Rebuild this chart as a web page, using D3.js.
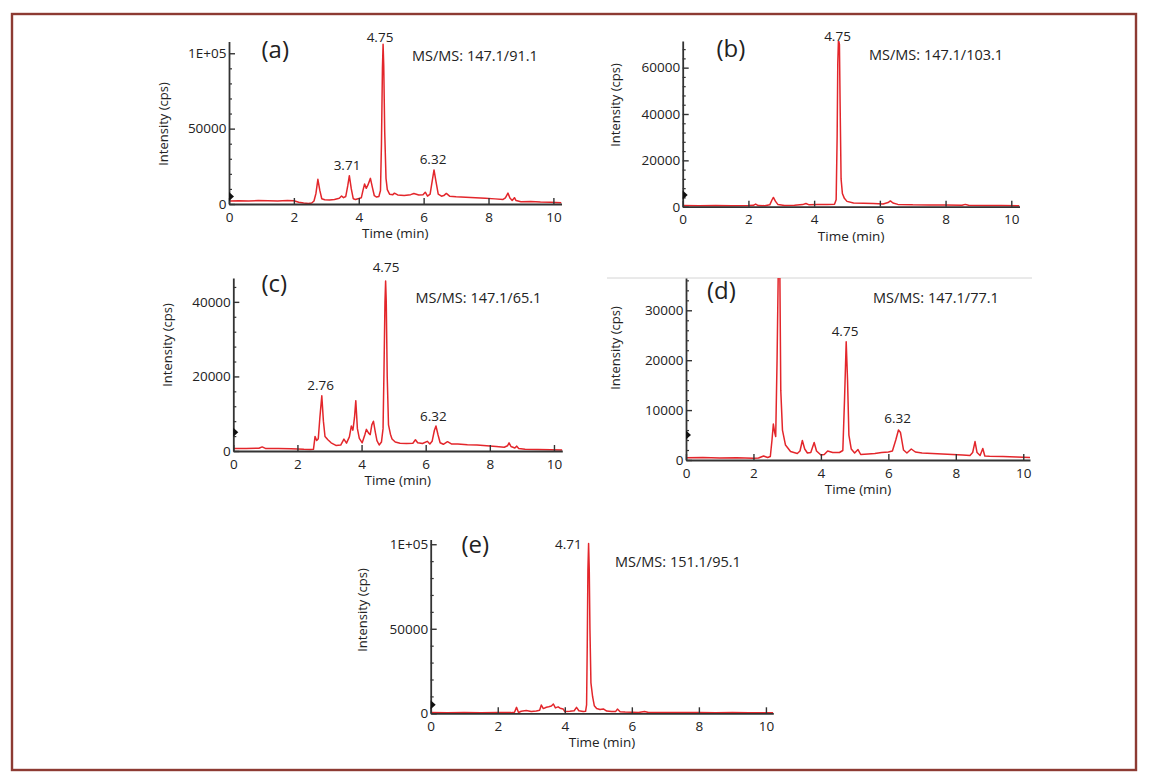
<!DOCTYPE html>
<html>
<head>
<meta charset="utf-8">
<script src="https://cdn.jsdelivr.net/npm/d3@7"></script>
<style>
  html, body { margin: 0; padding: 0; background: #fff; }
  svg { display: block; }
  text { font-family: "Open Sans", "Noto Sans", sans-serif; fill: #222; }
</style>
</head>
<body>
<svg id="chart" width="1152" height="782"></svg>
<script>
// ---------------- DATA ----------------
const panelIds = ["a", "b", "c", "d", "e"];
const transitions = ["MS/MS: 147.1/91.1", "MS/MS: 147.1/103.1", "MS/MS: 147.1/65.1", "MS/MS: 147.1/77.1", "MS/MS: 151.1/95.1"];
const xTicks = [0, 2, 4, 6, 8, 10];
const yTicksA = [0, 50000, 100000];
const yTicksB = [0, 20000, 40000, 60000];
const yTicksC = [0, 20000, 40000];
const yTicksD = [0, 10000, 20000, 30000];
const yTicksE = [0, 50000, 100000];
const peakLabelsA = [[4.75, "4.75"], [3.71, "3.71"], [6.32, "6.32"]];
const peakLabelsB = [[4.75, "4.75"]];
const peakLabelsC = [[4.75, "4.75"], [2.76, "2.76"], [6.32, "6.32"]];
const peakLabelsD = [[4.75, "4.75"], [6.32, "6.32"]];
const peakLabelsE = [[4.71, "4.71"]];

// time (min), intensity (cps)
const traceA = [[0,2000],[0.3,2200],[0.6,2000],[0.9,2300],[1.2,2100],[1.5,2000],[1.8,2300],[2.0,2100],[2.15,1200],[2.3,600],[2.45,300],[2.55,700],[2.62,2000],[2.68,7000],[2.74,16400],[2.80,9000],[2.86,3500],[2.95,2800],[3.1,2600],[3.25,3000],[3.4,3800],[3.47,5300],[3.53,4200],[3.6,5000],[3.66,12000],[3.71,18800],[3.77,10000],[3.83,3500],[3.9,3000],[4.0,3600],[4.08,4200],[4.13,9000],[4.18,13300],[4.23,10400],[4.28,12500],[4.36,17000],[4.42,11000],[4.48,5500],[4.55,4600],[4.62,5000],[4.67,9000],[4.70,40000],[4.73,90000],[4.75,106000],[4.77,92000],[4.80,48000],[4.84,17000],[4.88,9500],[4.95,6500],[5.05,6200],[5.1,7200],[5.2,6000],[5.4,5600],[5.6,6200],[5.7,7000],[5.85,6000],[5.98,6200],[6.05,7800],[6.12,5200],[6.2,6500],[6.27,16000],[6.32,22600],[6.38,15000],[6.45,6500],[6.55,5200],[6.62,5600],[6.7,7000],[6.8,5200],[7.0,4800],[7.3,4500],[7.6,4200],[7.9,3800],[8.2,3400],[8.45,3000],[8.52,4000],[8.6,7200],[8.66,4000],[8.73,2300],[8.8,4200],[8.85,2300],[9.0,1500],[9.3,1700],[9.6,1300],[9.9,1200],[10.25,900]];
const traceB = [[0,500],[0.5,450],[1.0,550],[1.5,450],[2.0,500],[2.15,600],[2.22,1150],[2.3,500],[2.5,450],[2.65,800],[2.72,3000],[2.76,4000],[2.82,2400],[2.9,900],[3.1,550],[3.4,600],[3.65,900],[3.75,1400],[3.85,800],[4.1,900],[4.4,1000],[4.62,1100],[4.67,3000],[4.70,30000],[4.72,62000],[4.74,72000],[4.77,70000],[4.79,45000],[4.82,12000],[4.86,5700],[4.92,3600],[5.0,2300],[5.2,1600],[5.5,1500],[5.8,1400],[6.1,1200],[6.25,1800],[6.32,2500],[6.4,1600],[6.55,1000],[7.0,800],[7.5,750],[8.0,700],[8.5,600],[8.6,1000],[8.7,600],[9.2,550],[9.7,500],[10.25,450]];
const traceC = [[0,700],[0.4,650],[0.8,750],[0.9,1100],[1.0,700],[1.4,650],[1.8,600],[2.0,550],[2.2,450],[2.4,400],[2.5,450],[2.55,3900],[2.6,2800],[2.65,3300],[2.7,9000],[2.76,14800],[2.81,8000],[2.86,3900],[2.95,3000],[3.05,2200],[3.2,1500],[3.35,1600],[3.45,3200],[3.53,2100],[3.62,3800],[3.68,6700],[3.73,5600],[3.78,9000],[3.82,13500],[3.87,6000],[3.93,3400],[4.02,2200],[4.1,4300],[4.15,5800],[4.22,4800],[4.27,4400],[4.32,7000],[4.37,8000],[4.43,5000],[4.48,2800],[4.55,1600],[4.62,2400],[4.67,6000],[4.70,22000],[4.73,40000],[4.75,45600],[4.77,40000],[4.80,20000],[4.84,7000],[4.9,4500],[4.95,3200],[5.05,2400],[5.2,2100],[5.4,2000],[5.6,2100],[5.68,3000],[5.75,2200],[5.9,2000],[6.05,2600],[6.13,1900],[6.2,2600],[6.27,5500],[6.32,6700],[6.38,4500],[6.45,2200],[6.55,1800],[6.68,2500],[6.8,1900],[7.0,1900],[7.3,1700],[7.6,1600],[7.9,1400],[8.2,1200],[8.45,1000],[8.55,1400],[8.6,2200],[8.66,1200],[8.78,800],[8.84,1300],[8.9,700],[9.1,500],[9.5,400],[9.9,350],[10.26,250]];
const traceD = [[0,450],[0.5,500],[1.0,400],[1.5,450],[2.0,350],[2.15,400],[2.3,800],[2.42,500],[2.5,700],[2.55,4000],[2.59,7200],[2.63,5500],[2.66,4700],[2.70,20000],[2.74,40000],[2.78,40000],[2.81,14000],[2.86,6000],[2.95,3000],[3.1,1700],[3.3,1300],[3.38,1800],[3.45,3900],[3.52,2200],[3.6,1400],[3.7,1500],[3.8,3500],[3.87,1800],[4.0,1000],[4.1,1100],[4.2,1800],[4.35,1500],[4.55,1500],[4.65,1900],[4.70,12000],[4.75,23700],[4.79,16000],[4.83,5000],[4.9,2200],[5.0,1400],[5.1,2100],[5.18,1100],[5.4,1200],[5.6,1300],[5.8,1500],[6.0,1600],[6.12,1800],[6.22,4000],[6.3,6000],[6.36,5500],[6.45,2000],[6.55,1400],[6.68,2200],[6.8,1600],[7.0,1400],[7.3,1300],[7.6,1200],[7.9,1100],[8.2,1000],[8.42,900],[8.5,1500],[8.57,3700],[8.63,1500],[8.72,900],[8.8,2300],[8.86,800],[9.0,750],[9.4,700],[9.8,600],[10.2,500]];
const traceE = [[0,400],[0.5,350],[1.0,400],[1.5,350],[2.0,400],[2.4,400],[2.5,600],[2.56,3500],[2.62,500],[2.7,1200],[2.85,1600],[3.0,1000],[3.15,1400],[3.25,1800],[3.3,4900],[3.36,2800],[3.45,3600],[3.52,3900],[3.6,4300],[3.66,5500],[3.72,3200],[3.8,3800],[3.86,3000],[3.95,2600],[4.0,1000],[4.15,1200],[4.28,1500],[4.35,3500],[4.42,1500],[4.55,1000],[4.62,1200],[4.65,5000],[4.67,40000],[4.69,85000],[4.71,100400],[4.73,85000],[4.75,50000],[4.78,18000],[4.83,9800],[4.88,4500],[4.95,2800],[5.05,2200],[5.15,2600],[5.25,1300],[5.4,1100],[5.52,1100],[5.57,2500],[5.65,900],[5.8,700],[6.0,600],[6.2,500],[6.38,1100],[6.5,500],[7.0,500],[7.5,450],[8.0,400],[8.5,350],[9.0,400],[9.5,350],[10.22,300]];

// ---------------- LAYOUT (pixels) ----------------
const layout = [
  { left: 229,   right: 561.5, bottom: 204,   top: 41.5,  xmax: 10.25, ymax: 107800, minor: 10000,
    trace: traceA, yTicks: yTicksA, peaks: peakLabelsA, sci: true,
    tag: [261.5, 58], ms: [412, 61], ytitle: [165, 124],
    peakPos: { "4.75": [380, 41.5], "3.71": [347, 170], "6.32": [433, 164] } },
  { left: 682.7, right: 1019.5, bottom: 206.7, top: 41,   xmax: 10.25, ymax: 71500, minor: 4000,
    trace: traceB, yTicks: yTicksB, peaks: peakLabelsB, sci: false,
    tag: [716.5, 57], ms: [869, 60], ytitle: [617, 105],
    peakPos: { "4.75": [837.5, 40.5] } },
  { left: 233.3, right: 562.3, bottom: 451,   top: 278,   xmax: 10.26, ymax: 46400, minor: 4000,
    trace: traceC, yTicks: yTicksC, peaks: peakLabelsC, sci: false,
    tag: [261.5, 292], ms: [415.5, 303], ytitle: [168.5, 345],
    peakPos: { "4.75": [386, 272], "2.76": [320.7, 390], "6.32": [433.3, 420.5] } },
  { left: 686,   right: 1030,  bottom: 460,   top: 278,   xmax: 10.2,  ymax: 36470, minor: 2000,
    trace: traceD, yTicks: yTicksD, peaks: peakLabelsD, sci: false,
    tag: [707, 299], ms: [873, 303], ytitle: [617, 348],
    peakPos: { "4.75": [845, 335.5], "6.32": [897.7, 423] } },
  { left: 430.7, right: 773.3, bottom: 713.3, top: 539.5, xmax: 10.22, ymax: 102800, minor: 10000,
    trace: traceE, yTicks: yTicksE, peaks: peakLabelsE, sci: true,
    tag: [461.5, 553], ms: [615, 566.5], ytitle: [363.5, 610],
    peakPos: { "4.71": [568.3, 549] } }
];

const svg = d3.select("#chart");
svg.append("rect").attr("x", 0).attr("y", 0).attr("width", 1152).attr("height", 782).attr("fill", "#fff");
// outer frame
svg.append("rect").attr("x", 12).attr("y", 14).attr("width", 1124).attr("height", 756)
  .attr("fill", "none").attr("stroke", "#8d3b33").attr("stroke-width", 2.4);

// faint separator line above panel (d)
svg.append("line").attr("x1", 607).attr("x2", 1032).attr("y1", 278).attr("y2", 278)
  .attr("stroke", "#d4d4d4").attr("stroke-width", 1);

const defs = svg.append("defs");

layout.forEach((p, i) => {
  const g = svg.append("g");
  const x = d3.scaleLinear().domain([0, p.xmax]).range([p.left, p.right]);
  const y = d3.scaleLinear().domain([0, p.ymax]).range([p.bottom, p.top]);

  defs.append("clipPath").attr("id", "clip" + i).append("rect")
    .attr("x", p.left).attr("y", p.top).attr("width", p.right - p.left).attr("height", p.bottom - p.top + 2);

  const line = d3.line().x(d => x(d[0])).y(d => y(d[1]));
  g.append("path").datum(p.trace).attr("d", line)
    .attr("clip-path", "url(#clip" + i + ")")
    .attr("fill", "none").attr("stroke", "#e3262b").attr("stroke-width", 1.5)
    .attr("stroke-linejoin", "round");

  const minorVals = d3.range(0, p.ymax + 1, p.minor).filter(v => !p.yTicks.includes(v));
  const gMinor = g.append("g").attr("transform", `translate(${p.left},0)`)
    .call(d3.axisLeft(y).tickValues(minorVals).tickSize(-3).tickFormat(""));
  gMinor.select(".domain").remove();
  gMinor.selectAll("line").attr("stroke", "#333").attr("stroke-width", 1.2);

  const fmt = p.sci ? (v => v === 0 ? "0" : (v === 100000 ? "1E+05" : d3.format("d")(v))) : d3.format("d");
  const gy = g.append("g").attr("transform", `translate(${p.left},0)`)
    .call(d3.axisLeft(y).tickValues(p.yTicks).tickSizeInner(-6).tickSizeOuter(0).tickPadding(2.5).tickFormat(fmt));
  gy.select(".domain").attr("stroke", "#333").attr("stroke-width", 1.8);
  gy.selectAll(".tick line").attr("stroke", "#333").attr("stroke-width", 1.4);
  gy.selectAll("text").attr("font-size", 13.5).attr("fill", "#222")
    .attr("font-family", "'Open Sans', sans-serif");

  const gx = g.append("g").attr("transform", `translate(0,${p.bottom})`)
    .call(d3.axisBottom(x).tickValues(xTicks).tickSizeInner(-6).tickSizeOuter(0).tickPadding(8).tickFormat(d3.format("d")));
  gx.select(".domain").attr("stroke", "#333").attr("stroke-width", 1.8);
  gx.selectAll(".tick line").attr("stroke", "#333").attr("stroke-width", 1.4);
  gx.selectAll("text").attr("font-size", 13.5).attr("fill", "#222")
    .attr("font-family", "'Open Sans', sans-serif");

  const my = y(5000);
  g.append("path").attr("d", `M${p.left},${my - 4.5}L${p.left + 5},${my}L${p.left},${my + 4.5}Z`).attr("fill", "#111");

  g.append("text").attr("transform", `translate(${p.ytitle[0]},${p.ytitle[1]}) rotate(-90)`)
    .attr("text-anchor", "middle").attr("dominant-baseline", "middle")
    .attr("font-size", 13).text("Intensity (cps)");
  g.append("text").attr("x", (p.left + p.right) / 2).attr("y", p.bottom + 34)
    .attr("text-anchor", "middle").attr("font-size", 13.5).text("Time (min)");

  g.append("text").attr("x", p.tag[0]).attr("y", p.tag[1]).attr("font-size", 24).text("(" + panelIds[i] + ")");
  g.append("text").attr("x", p.ms[0]).attr("y", p.ms[1]).attr("font-size", 14.5).text(transitions[i]);
  p.peaks.forEach(pk => {
    const pos = p.peakPos[pk[1]];
    g.append("text").attr("x", pos[0]).attr("y", pos[1]).attr("text-anchor", "middle")
      .attr("font-size", 13.5).text(pk[1]);
  });
});
</script>
</body>
</html>
